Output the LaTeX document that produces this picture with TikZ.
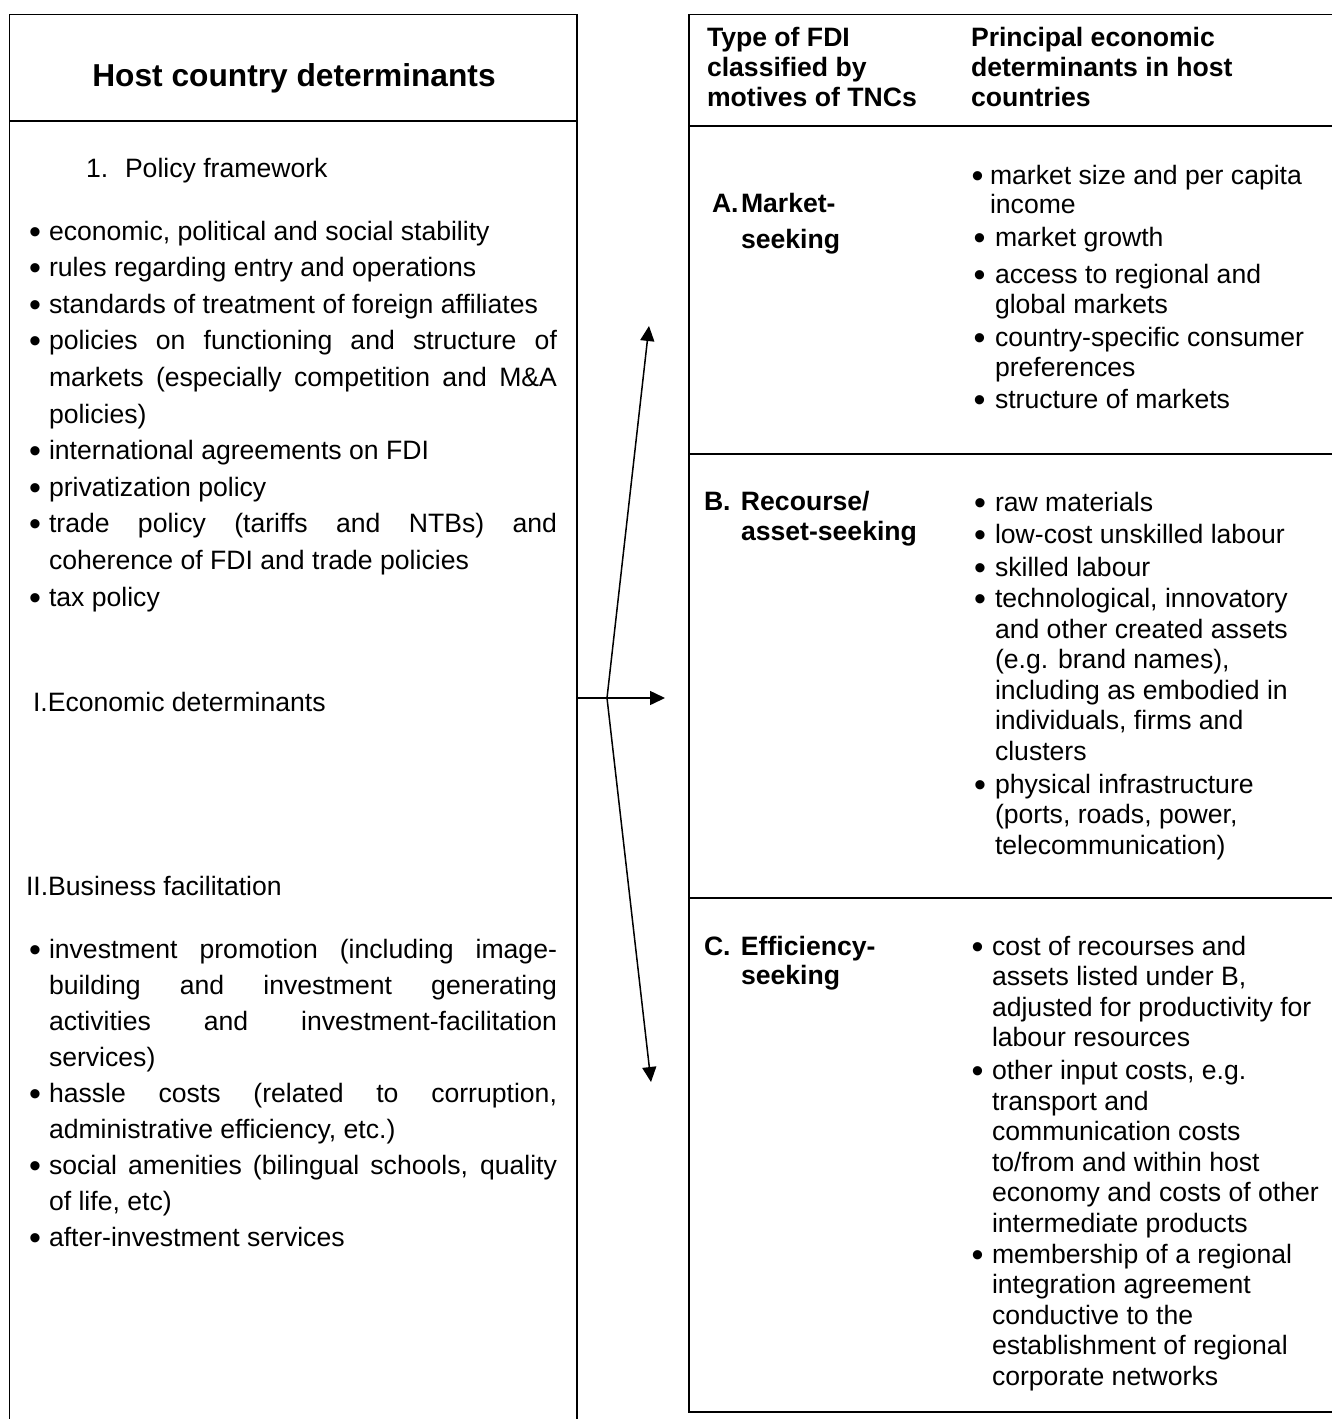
\documentclass[tikz,border=0pt]{standalone}
\usepackage{fontspec}
\setmainfont{Liberation Sans}
\usetikzlibrary{arrows.meta}
\newcommand\bulletmark{\makebox[0pt][c]{\raisebox{-3pt}{\fontsize{34pt}{34pt}\selectfont •}}}
\newcommand\Bul[1]{\leavevmode\llap{\bulletmark\hspace{#1}}}
\newcommand\VL[2]{\vtop{\baselineskip=#1\relax\lineskiplimit=-100pt\lineskip=0pt\halign{##\hfil\cr#2\crcr}}}
\newcommand\JB[3]{\vtop{\hsize=#1\relax\parindent=0pt\parskip=0pt\leftskip=0pt\rightskip=0pt\baselineskip=#2\relax\lineskiplimit=-100pt\lineskip=0pt\hyphenpenalty=10000\tolerance=9999 #3\par}}
\tikzset{
  box/.style={line width=1.8pt},
  thickbox/.style={line width=2.8pt},
  txt/.style={anchor=base west, inner sep=0pt, outer sep=0pt, font=\fontsize{26.6pt}{30.5pt}\selectfont},
  btxt/.style={txt, font=\fontsize{26.6pt}{30.5pt}\selectfont\bfseries},
  arr/.style={line width=1.5pt, -{Triangle[length=15pt,width=14pt]}},
}
\begin{document}
\begin{tikzpicture}[x=1pt, y=-1pt]
\useasboundingbox (0,0) rectangle (1332,1419);
% left box
\draw[box] (9.5,1419) -- (9.5,14.5) -- (577,14.5) -- (577,1419);
\draw[box] (9.5,121) -- (577,121);
% right box
\draw[box] (1332,14.5) -- (689,14.5) -- (689,1412);
\draw[box] (689,126) -- (1332,126);
\draw[box] (689,454) -- (1332,454);
\draw[box] (689,898) -- (1332,898);
\draw[thickbox] (688,1412) -- (1332,1412);

% left column texts
\node[btxt, anchor=base, font=\fontsize{31.7pt}{36pt}\selectfont\bfseries] (head) at (294,86) {Host country determinants};
\node[txt] (pnum) at (86,177) {1.};
\node[txt] (pf) at (125,177) {Policy framework};
\node[txt] (listA) at (49,240) {\JB{508pt}{36.6pt}{%
\Bul{14pt}economic, political and social stability\par
\Bul{14pt}rules regarding entry and operations\par
\Bul{14pt}standards of treatment of foreign affiliates\par
\Bul{14pt}policies on functioning and structure of\linebreak markets (especially competition and M\&A\linebreak policies)\par
\Bul{14pt}international agreements on FDI\par
\Bul{14pt}privatization policy\par
\Bul{14pt}trade policy (tariffs and NTBs) and\linebreak coherence of FDI and trade policies\par
\Bul{14pt}tax policy}};
\node[txt] (econ) at (33,711.5) {I.Economic determinants};
\node[txt] (bus) at (26,895) {II.Business facilitation};
\node[txt] (listB) at (49,958) {\JB{508pt}{36.1pt}{%
\Bul{14pt}investment promotion (including image-\linebreak building and investment generating\linebreak activities and investment-facilitation\linebreak services)\par
\Bul{14pt}hassle costs (related to corruption,\linebreak administrative efficiency, etc.)\par
\Bul{14pt}social amenities (bilingual schools, quality\linebreak of life, etc)\par
\Bul{14pt}after-investment services}};

% right header
\node[btxt] (h1) at (707,46.7) {\VL{30pt}{Type of FDI\cr classified by\cr motives of TNCs}};
\node[btxt] (h2) at (971,46.7) {\VL{30pt}{Principal economic\cr determinants in host\cr countries}};

% row labels
\node[btxt] (la) at (712,212.5) {\vtop{\baselineskip=35.5pt\hbox{\makebox[29pt][l]{A.}Market-}\hbox{\hspace{29pt}seeking}}};
\node[btxt] (lb) at (704,510) {\vtop{\baselineskip=30pt\hbox{\makebox[37pt][l]{B.}Recourse/}\hbox{\hspace{37pt}asset-seeking}}};
\node[btxt] (lc) at (704,955) {\vtop{\baselineskip=29.5pt\hbox{\makebox[37pt][l]{C.}Efficiency-}\hbox{\hspace{37pt}seeking}}};

% A items
\node[txt] (a1) at (990,184) {\VL{29.5pt}{\Bul{12.5pt}market size and per capita\cr income}};
\node[txt] (a2) at (995,246.5) {\VL{30pt}{\Bul{15.4pt}market growth}};
\node[txt] (a3) at (995,283) {\VL{30pt}{\Bul{15.4pt}access to regional and\cr global markets}};
\node[txt] (a4) at (995,346.5) {\VL{30pt}{\Bul{15.4pt}country-specific consumer\cr preferences}};
\node[txt] (a5) at (995,408.5) {\VL{30pt}{\Bul{15.4pt}structure of markets}};
% B items
\node[txt] (b1) at (995,511.5) {\VL{30.5pt}{\Bul{15pt}raw materials}};
\node[txt] (b2) at (995,543.5) {\VL{30.5pt}{\Bul{15pt}low-cost unskilled labour}};
\node[txt] (b3) at (995,576) {\VL{30.5pt}{\Bul{15pt}skilled labour}};
\node[txt] (b4) at (995,607.5) {\VL{30.6pt}{\Bul{15pt}technological, innovatory\cr and other created assets\cr (e.g. brand names),\cr including as embodied in\cr individuals, firms and\cr clusters}};
\node[txt] (b5) at (995,793.5) {\VL{30.3pt}{\Bul{15pt}physical infrastructure\cr (ports, roads, power,\cr telecommunication)}};
% C items
\node[txt] (c1) at (992,955) {\VL{30.5pt}{\Bul{14.5pt}cost of recourses and\cr assets listed under B,\cr adjusted for productivity for\cr labour resources}};
\node[txt] (c2) at (992,1079.5) {\VL{30.5pt}{\Bul{14.5pt}other input costs, e.g.\cr transport and\cr communication costs\cr to/from and within host\cr economy and costs of other\cr intermediate products}};
\node[txt] (c3) at (992,1263.5) {\VL{30.4pt}{\Bul{14.5pt}membership of a regional\cr integration agreement\cr conductive to the\cr establishment of regional\cr corporate networks}};

% connectors
\coordinate (lr) at (577,698);
\coordinate (j) at (607,698);
\coordinate (tipU) at (649,326);
\coordinate (tipM) at (665,698);
\coordinate (tipD) at (651,1082);
\draw[arr] (lr) -- (tipM);
\draw[arr] (j) -- (tipU);
\draw[arr] (j) -- (tipD);
\end{tikzpicture}
\end{document}
